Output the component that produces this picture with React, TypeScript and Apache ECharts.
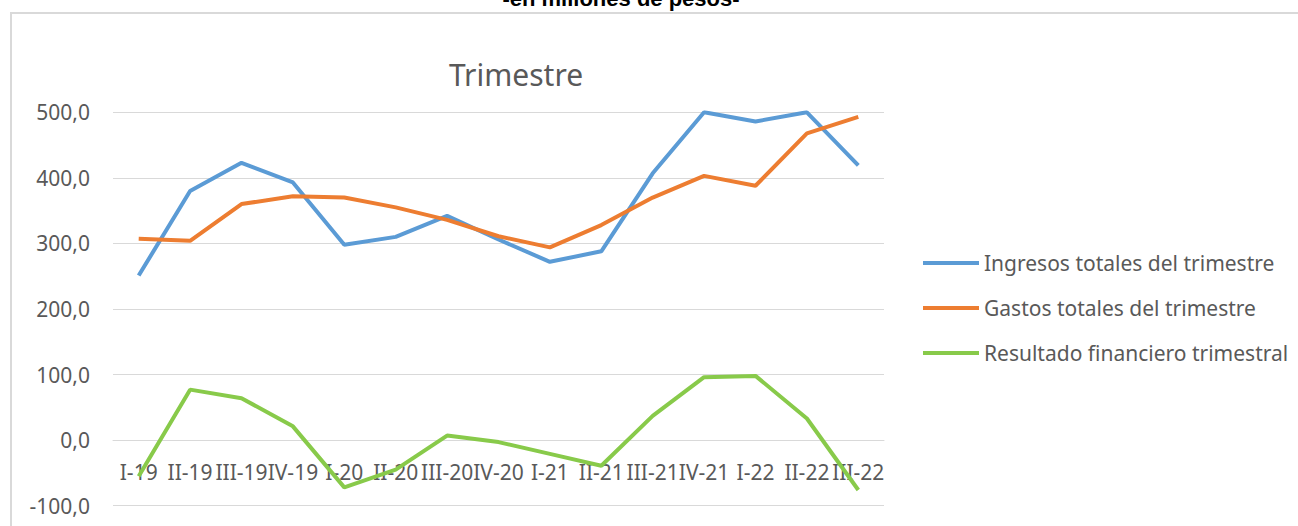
import React, { useEffect, useRef } from "react";
import * as echarts from "echarts";

const categories = ["I-19", "II-19", "III-19", "IV-19", "I-20", "II-20", "III-20", "IV-20", "I-21", "II-21", "III-21", "IV-21", "I-22", "II-22", "III-22"];
const ingresos = [251, 380, 423, 393, 298, 310, 342, 306, 272, 288, 407, 500, 486, 500, 419];
const gastos = [307, 304, 360, 372, 370, 355, 336, 311, 294, 328, 370, 403, 388, 468, 493];
const resultado = [-55, 77, 64, 21, -72, -45, 7, -3, -21, -39, 37, 96, 98, 33, -76];
const yTicks = { min: -100, max: 500, interval: 100 };

const FONT = "'Noto Sans', sans-serif";
const TXT = "#595959";
const GRID_TOP = 112.3;
const GRID_BOTTOM = 20.3;
const PLOT_H = 526 - GRID_TOP - GRID_BOTTOM;

export default function App() {
  const ref = useRef<HTMLDivElement>(null);
  useEffect(() => {
    document.body.style.margin = "0";
    const chart = echarts.init(ref.current!, undefined, { renderer: "svg" });
    // offset of the category axis so that it sits on the value 0
    const zeroOffset = -PLOT_H * (0 - yTicks.min) / (yTicks.max - yTicks.min);
    chart.setOption({
      animation: false,
      backgroundColor: "#ffffff",
      textStyle: { fontFamily: FONT, color: TXT },
      graphic: [
        {
          type: "rect",
          shape: { x: 11, y: 13, width: 1400, height: 600 },
          style: { fill: "none", stroke: "#d9d9d9", lineWidth: 2 },
          silent: true,
        },
        {
          type: "text",
          x: 621,
          y: 9,
          style: {
            text: "-en millones de pesos-",
            font: "bold 22px 'Liberation Sans', Arial, sans-serif",
            fill: "#000000",
            textAlign: "center",
            textVerticalAlign: "bottom",
          },
        },
        {
          type: "text",
          x: 516,
          y: 74,
          style: {
            text: "Trimestre",
            font: "30px 'Noto Sans', sans-serif",
            fill: TXT,
            textAlign: "center",
            textVerticalAlign: "middle",
          },
        },
      ],
      legend: {
        orient: "vertical",
        left: 923,
        top: 251,
        padding: 0,
        icon: "rect",
        itemWidth: 56,
        itemHeight: 4,
        itemGap: 21,
        textStyle: { fontFamily: FONT, fontSize: 21, color: TXT, lineHeight: 24 },
        data: ["Ingresos totales del trimestre", "Gastos totales del trimestre", "Resultado financiero trimestral"],
      },
      grid: { left: 113, right: 414, top: GRID_TOP, bottom: GRID_BOTTOM, containLabel: false, outerBoundsMode: "none" },
      xAxis: {
        type: "category",
        data: categories,
        boundaryGap: true,
        position: "bottom",
        offset: zeroOffset,
        axisLine: { show: true, onZero: false, lineStyle: { color: "#d9d9d9", width: 1 } },
        axisTick: { show: false },
        axisLabel: {
          interval: 0,
          hideOverlap: false,
          margin: 21,
          fontSize: 21,
          lineHeight: 21,
          color: TXT,
          fontFamily: FONT,
        },
      },
      yAxis: {
        type: "value",
        min: yTicks.min,
        max: yTicks.max,
        interval: yTicks.interval,
        axisLine: { show: false },
        axisTick: { show: false },
        splitLine: { lineStyle: { color: "#d9d9d9", width: 1 } },
        axisLabel: {
          margin: 23,
          fontSize: 21,
          color: TXT,
          fontFamily: FONT,
          formatter: (v: number) => v.toFixed(1).replace(".", ","),
        },
      },
      series: [
        {
          name: "Ingresos totales del trimestre",
          type: "line",
          data: ingresos,
          symbol: "none",
          lineStyle: { width: 4, color: "#5B9BD5" },
          itemStyle: { color: "#5B9BD5" },
        },
        {
          name: "Gastos totales del trimestre",
          type: "line",
          data: gastos,
          symbol: "none",
          lineStyle: { width: 4, color: "#ED7D31" },
          itemStyle: { color: "#ED7D31" },
        },
        {
          name: "Resultado financiero trimestral",
          type: "line",
          data: resultado,
          symbol: "none",
          lineStyle: { width: 4, color: "#88CA4A" },
          itemStyle: { color: "#88CA4A" },
        },
      ],
    });
    return () => chart.dispose();
  }, []);
  return <div ref={ref} style={{ width: 1298, height: 526 }} />;
}
